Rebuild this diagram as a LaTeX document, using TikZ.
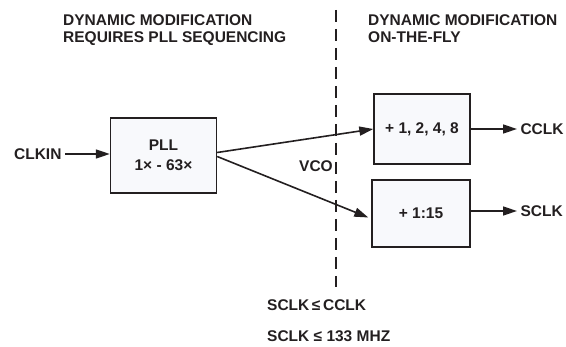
\documentclass[tikz,border=0pt]{standalone}
\usepackage{fontspec}
\setmainfont{Liberation Sans}
\usetikzlibrary{arrows.meta,positioning}
\definecolor{inkgray}{HTML}{231F20}
\definecolor{boxfill}{HTML}{F8F9FC}

\begin{document}
\begin{tikzpicture}[x=1pt,y=-1pt,
  every node/.style={text=inkgray,font=\fontsize{15.5}{17}\selectfont\bfseries},
  divbox/.style={draw=inkgray,line width=1.4pt,fill=boxfill,inner sep=0pt},
  sig/.style={draw=inkgray,line width=1.6pt,-{Triangle[length=14pt,width=9pt]}}]
  \useasboundingbox (0,0) rectangle (566,347);

  % headers
  \node[anchor=north west,inner sep=0pt,align=left] (lefthead) at (63,14) {DYNAMIC MODIFICATION\\REQUIRES PLL SEQUENCING};
  \node[anchor=north west,inner sep=0pt,align=left] (righthead) at (368,14) {DYNAMIC MODIFICATION\\ON-THE-FLY};

  % divider
  \coordinate (divtop) at (336,10);
  \coordinate (divbot) at (336,287);
  \draw[inkgray,line width=1.3pt,dash pattern=on 12pt off 7pt] (divtop) -- (divbot);

  % blocks
  \node[divbox,minimum width=106pt,minimum height=75pt,align=center] (pll) at (163.5,155.5) {PLL\\[3pt]1× - 63×};
  \node[divbox,minimum width=96pt,minimum height=70pt] (cdiv) at (422,129) {+ 1, 2, 4, 8};
  \node[divbox,minimum width=98pt,minimum height=67pt] (sdiv) at (421,213.5) {+ 1:15};

  % signal labels
  \node[anchor=east] (clkin) at (65,154) {CLKIN};
  \node[anchor=west] (cclk) at (517,129) {CCLK};
  \node[anchor=west] (sclk) at (517,211) {SCLK};
  \node (vco) at (316,166) {VCO};

  % connectors
  \draw[sig] (clkin.east) -- (clkin.east -| pll.west);
  \draw[sig] ([yshift=3pt]pll.east) -- (cdiv.west);
  \draw[sig] ([yshift=-1pt]pll.east) -- ([xshift=-3pt,yshift=-4pt]sdiv.west);
  \draw[sig] (cdiv.east |- cclk.west) -- (cclk.west);
  \draw[sig] (sdiv.east |- sclk.west) -- (sclk.west);

  % constraints
  \node[anchor=west,inner sep=0pt] (rule1) at (267,305) {SCLK\,≤\,CCLK};
  \node[anchor=west,inner sep=0pt] (rule2) at (267,336.5) {SCLK ≤ 133 MHZ};
\end{tikzpicture}
\end{document}
